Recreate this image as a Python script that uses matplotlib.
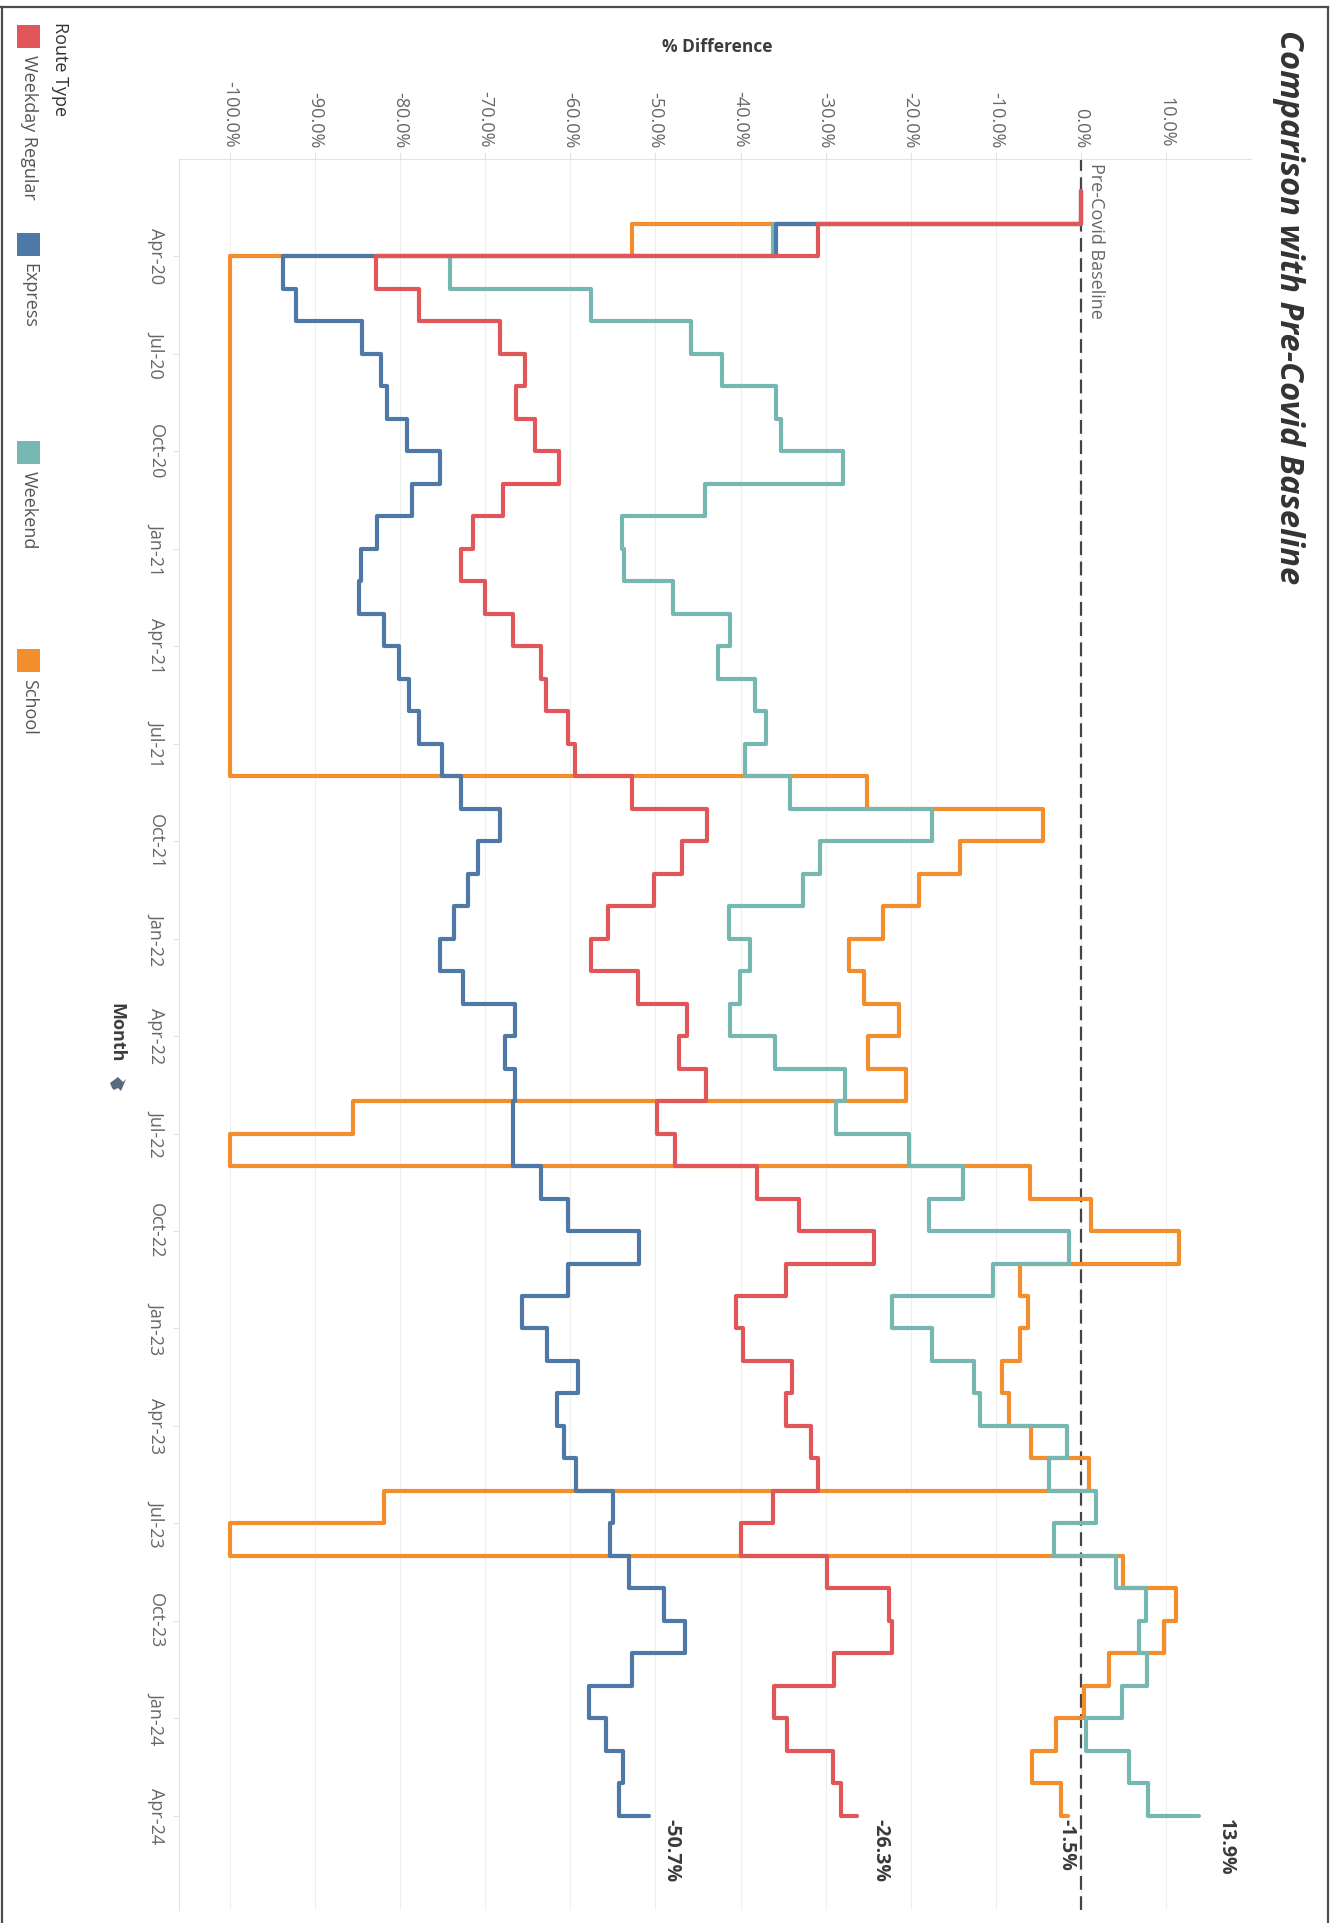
import numpy as np
import pandas as pd
import matplotlib
matplotlib.use('Agg')
import matplotlib.pyplot as plt
from matplotlib.patches import Rectangle, Polygon
from matplotlib.lines import Line2D

plt.rcParams['font.family'] = ['Open Sans', 'DejaVu Sans']

# monthly ridership, % difference against the pre-covid baseline
months = list(pd.date_range('2020-02-01', '2024-04-01', freq='MS').strftime('%b-%y'))

weekday_regular = [0, -30.9, -82.9, -77.8, -68.3, -65.3, -66.4, -64.2, -61.3, -67.9,
                   -71.4, -72.8, -70.0, -66.7, -63.4, -62.9, -60.3, -59.5, -52.8, -43.9,
                   -46.9, -50.2, -55.6, -57.6, -52.1, -46.3, -47.2, -44.0, -49.8, -47.7,
                   -38.1, -33.1, -24.3, -34.6, -40.5, -39.7, -34.0, -34.6, -31.7, -30.9,
                   -36.2, -39.9, -29.8, -22.5, -22.2, -29.0, -36.1, -34.5, -29.1, -28.2,
                   -26.3]
express = [0, -35.8, -93.8, -92.3, -84.5, -82.3, -81.5, -79.2, -75.3, -78.6,
           -82.7, -84.6, -84.9, -81.9, -80.2, -79.0, -77.8, -75.1, -72.8, -68.3,
           -70.8, -72.0, -73.7, -75.3, -72.6, -66.5, -67.7, -66.5, -66.8, -66.7,
           -63.5, -60.3, -51.9, -60.3, -65.7, -62.8, -59.1, -61.6, -60.7, -59.3,
           -55.0, -55.3, -53.1, -49.0, -46.5, -52.7, -57.8, -55.8, -53.8, -54.3,
           -50.7]
weekend = [0, -36.2, -74.1, -57.6, -45.8, -42.2, -35.8, -35.2, -28.0, -44.2,
           -53.9, -53.7, -47.9, -41.2, -42.6, -38.3, -37.0, -39.5, -34.2, -17.5,
           -30.7, -32.7, -41.3, -38.9, -40.1, -41.2, -36.0, -27.7, -28.8, -20.2,
           -13.8, -17.9, -1.4, -10.3, -22.2, -17.5, -12.6, -11.9, -1.6, -3.7,
           1.8, -3.1, 4.1, 7.7, 6.8, 7.8, 4.8, 0.6, 5.7, 7.9,
           13.9]
school = [0, -52.7, -100, -100, -100, -100, -100, -100, -100, -100,
          -100, -100, -100, -100, -100, -100, -100, -100, -25.1, -4.4,
          -14.2, -19.0, -23.2, -27.2, -25.5, -21.4, -25.0, -20.6, -85.6, -100,
          -6.0, 1.2, 11.5, -7.2, -6.2, -7.2, -9.3, -8.4, -5.8, 1.0,
          -81.9, -100, 4.9, 11.2, 9.8, 3.3, 0.4, -2.9, -5.7, -2.3,
          -1.5]

route_types = ['Weekday Regular', 'Express', 'Weekend', 'School']
series = [weekday_regular, express, weekend, school]
colors = ['#e15759', '#4e79a7', '#76b7b2', '#f28e2b']
label_dx = [23, 22, 27, -2]   # pixel nudges for the end labels

month_ticks = ['Apr-20', 'Jul-20', 'Oct-20', 'Jan-21', 'Apr-21', 'Jul-21', 'Oct-21',
               'Jan-22', 'Apr-22', 'Jul-22', 'Oct-22', 'Jan-23', 'Apr-23', 'Jul-23',
               'Oct-23', 'Jan-24', 'Apr-24']
pct_ticks = [-100, -90, -80, -70, -60, -50, -40, -30, -20, -10, 0, 10]

W, H = 1335, 1923
fig = plt.figure(figsize=(W / 100, H / 100), dpi=100)
ax = fig.add_axes([179 / W, 1 - 1910 / H, (1251 - 179) / W, (1910 - 159) / H])

y = np.arange(len(months))

# last series drawn first so Weekday Regular sits on top
for i in reversed(range(len(series))):
    vals = series[i]
    ax.plot(vals, y, drawstyle='steps-pre', color=colors[i], lw=3.0,
            solid_joinstyle='round', solid_capstyle='round', zorder=3 + (4 - i))
    ax.annotate(f'{vals[-1]:.1f}%', xy=(vals[-1], y[-1]), xytext=(label_dx[i], -3),
                textcoords='offset pixels', rotation=-90, ha='center', va='top',
                fontsize=14, fontweight='bold', color='#3a3a3a')

ax.axvline(0, color='#444444', lw=1.6, ls=(0, (6.2, 2.9)), zorder=2)
ax.annotate('Pre-Covid Baseline', xy=(0, 1), xycoords=ax.get_xaxis_transform(),
            xytext=(6, -4), textcoords='offset pixels', rotation=-90,
            ha='left', va='top', fontsize=13, color='#666666')

ax.set_xlim(-106, 20)
ax.set_ylim(len(months) + 1.9, -1)

ax.xaxis.tick_top()
ax.set_xticks(pct_ticks)
ax.set_xticklabels([f'{v:.1f}%' for v in pct_ticks], rotation=-90)
ax.set_yticks([months.index(m) for m in month_ticks])
ax.set_yticklabels(month_ticks, rotation=-90, va='center')
ax.tick_params(axis='x', length=5, width=0.8, color='#e3e3e3', pad=3,
               labelsize=13, labelcolor='#666666')
ax.tick_params(axis='y', length=4.5, width=0.8, color='#e3e3e3', pad=5.5,
               labelsize=13, labelcolor='#666666')

ax.grid(axis='x', color='#efefef', lw=0.8)
ax.set_axisbelow(True)
for side in ['right', 'bottom']:
    ax.spines[side].set_visible(False)
for side in ['top', 'left']:
    ax.spines[side].set_color('#e3e3e3')
    ax.spines[side].set_linewidth(0.8)

fig.text(1288 / W, 1 - 30 / H, 'Comparison with Pre-Covid Baseline', rotation=-90,
         ha='center', va='top', fontsize=23.5, fontweight='bold', fontstyle='italic',
         color='#333333')
fig.text(717 / W, 1 - 47 / H, '% Difference', ha='center', va='center',
         fontsize=12.5, fontweight='bold', color='#3d3d3d')
fig.text(116 / W, 1 - 1033 / H, 'Month', rotation=-90, ha='center', va='center',
         fontsize=13, fontweight='bold', color='#3d3d3d')

# little pin icon under the axis title
pin = np.array([[106, 1094], [112, 1088], [110, 1083], [118, 1077], [123, 1082],
                [126, 1079], [121, 1091], [118, 1088], [114, 1090], [112, 1088]])
fig.add_artist(Polygon(np.column_stack([pin[:, 0] / W, 1 - pin[:, 1] / H]),
                       closed=True, transform=fig.transFigure, color='#5a6b7d', lw=0))

# legend, laid out down the left edge
fig.text(60 / W, 1 - 22 / H, 'Route Type', rotation=-90, ha='center', va='top',
         fontsize=13, color='#333333')
for i, name in enumerate(route_types):
    top = 25 + 208 * i
    fig.add_artist(Rectangle((17 / W, 1 - (top + 23) / H), 23 / W, 23 / H,
                             transform=fig.transFigure, color=colors[i], lw=0))
    fig.text(29 / W, 1 - (top + 30) / H, name, rotation=-90, ha='center', va='top',
             fontsize=13, color='#555555')

# window frame
frame = dict(transform=fig.transFigure, color='#4d4d4d', lw=1.6)
fig.add_artist(Line2D([0, 1328 / W], [1 - 7 / H, 1 - 7 / H], **frame))
fig.add_artist(Line2D([1328 / W, 1328 / W], [0, 1 - 7 / H], **frame))
fig.add_artist(Line2D([1.5 / W, 1.5 / W], [0, 1 - 7 / H], **frame))

fig.savefig('out.png', dpi=100)
